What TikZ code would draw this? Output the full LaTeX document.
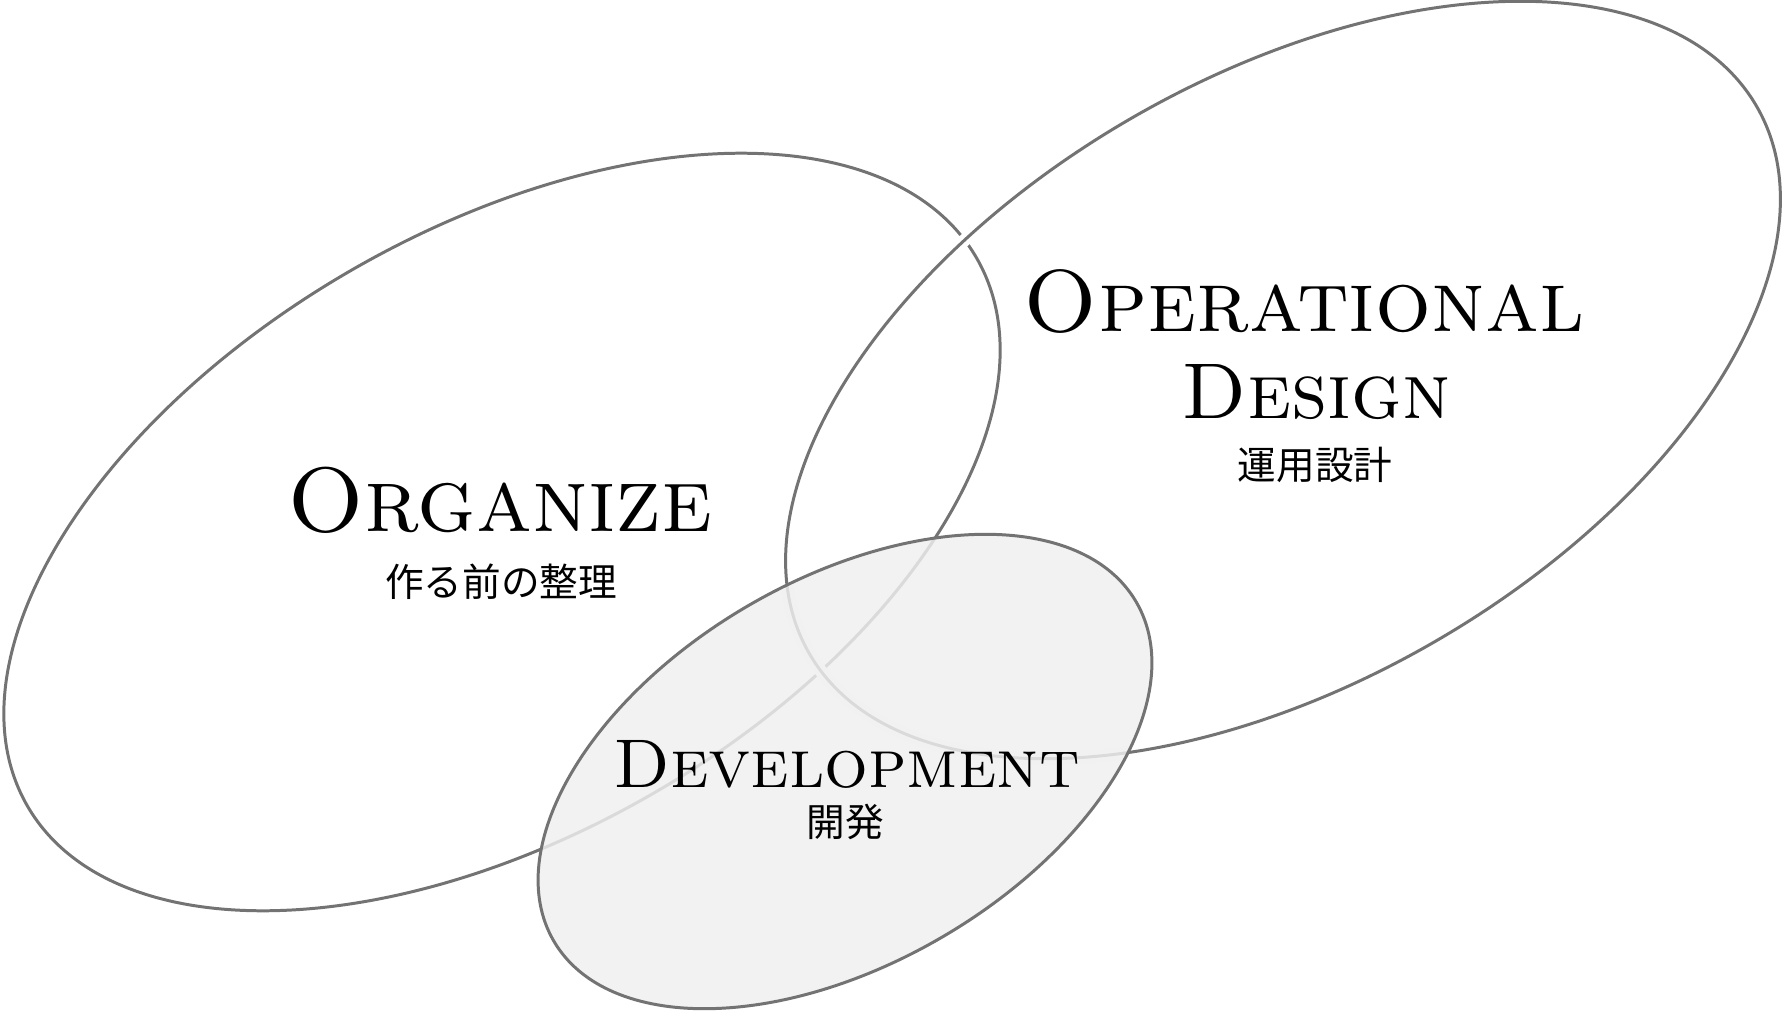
\documentclass[tikz,border=0pt]{standalone}
\usepackage{fontspec}
\newfontfamily\jpfont{Noto Sans CJK JP}
\definecolor{ringgray}{HTML}{737373}
\definecolor{devfill}{HTML}{EFEFEF}
\tikzset{
  ring/.style={draw=ringgray, line width=0.85pt},
  halo/.style={draw=white, line width=3.6pt},
  title/.style={anchor=base, inner sep=0pt, font=\fontsize{25}{25}\selectfont\scshape},
  subtitle/.style={inner sep=0pt, font=\jpfont\fontsize{11}{11}\selectfont}
}
\begin{document}
\begin{tikzpicture}
\useasboundingbox (0,0) rectangle (17.83,10.12);
% the three ellipses
\draw[ring, rotate around={30:(5.02,4.80)}] (5.02,4.80) ellipse [x radius=5.48, y radius=3.02];
\draw[halo, rotate around={30:(12.83,6.32)}] (12.83,6.32) ellipse [x radius=5.47, y radius=3.025];
\draw[ring, rotate around={30:(12.83,6.32)}] (12.83,6.32) ellipse [x radius=5.47, y radius=3.025];
\draw[ring, fill=devfill, fill opacity=0.83, rotate around={30.2:(8.45,2.405)}] (8.45,2.405) ellipse [x radius=3.37, y radius=1.92];
% labels
\node[title, font=\fontsize{26}{26}\selectfont\scshape] (org) at (5.00,4.81) {Organize};
\node[subtitle] (orgjp) at (5.01,4.30) {作る前の整理};
\node[title] (ops) at (13.04,6.81) {Operational};
\node[title, font=\fontsize{22.5}{22.5}\selectfont\scshape] (design) at (13.16,5.94) {Design};
\node[subtitle] (opsjp) at (13.15,5.47) {運用設計};
\node[title, font=\fontsize{19.6}{19.6}\selectfont\scshape] (dev) at (8.465,2.25) {Development};
\node[subtitle] (devjp) at (8.455,1.905) {開発};
\end{tikzpicture}
\end{document}
